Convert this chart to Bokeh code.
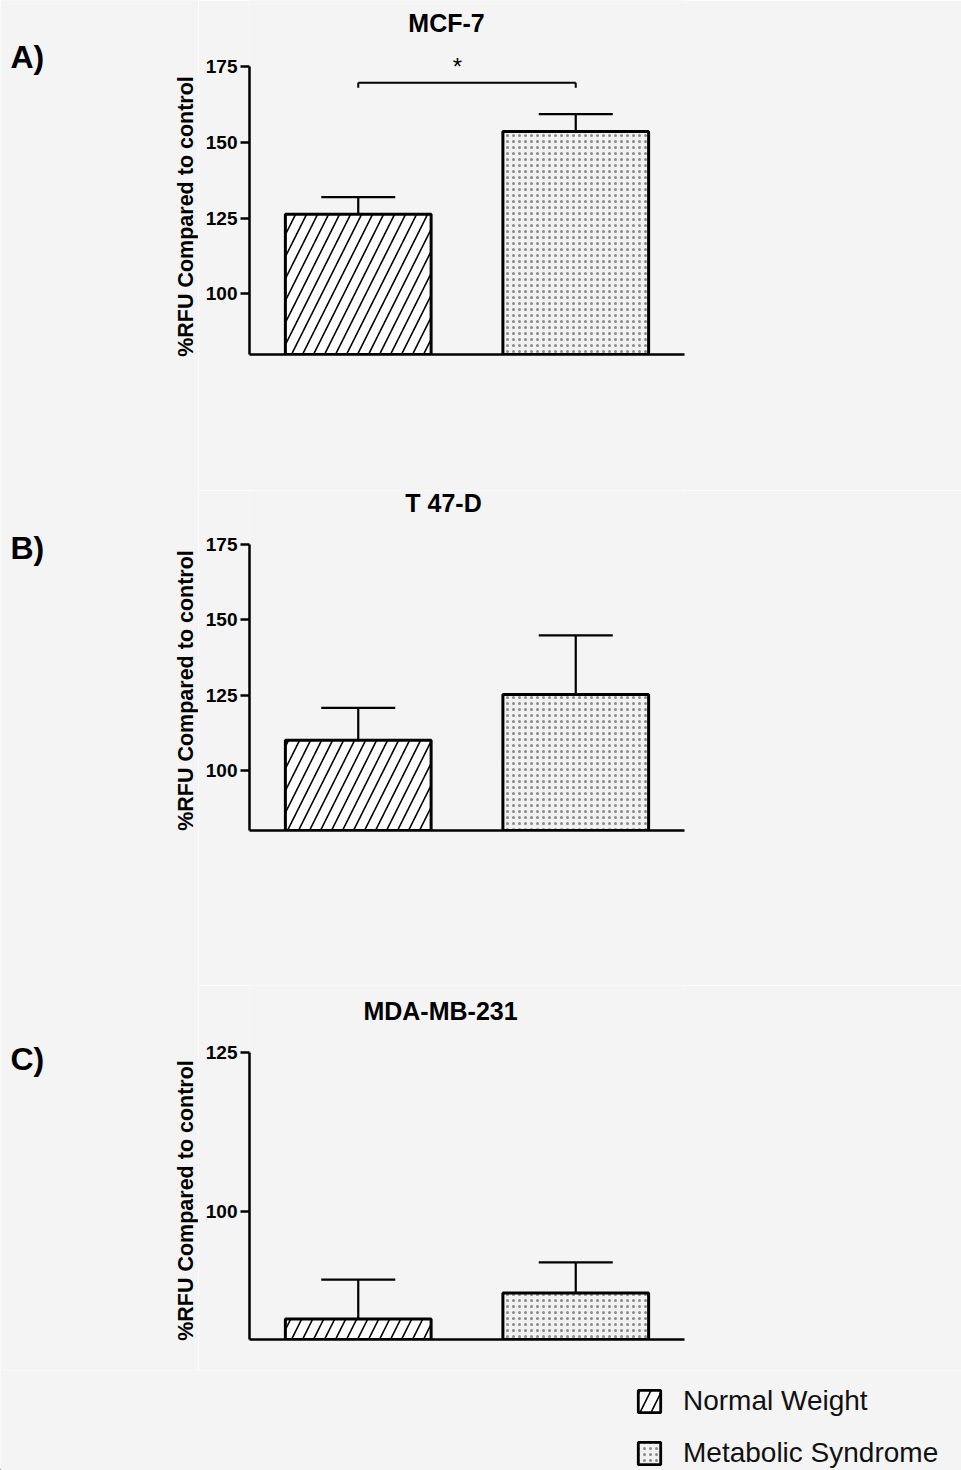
import math
from bokeh.plotting import figure
from bokeh.layouts import column, row
from bokeh.models import (Range1d, Label, Whisker, TeeHead, ColumnDataSource,
                          Legend, LegendItem, FixedTicker)
from bokeh.core.properties import value
from bokeh.embed import file_html
from bokeh.resources import INLINE

# ---------------- data ----------------
groups = ["Normal Weight", "Metabolic Syndrome"]
titles = ["MCF-7", "T 47-D", "MDA-MB-231"]
panel_tags = ["A)", "B)", "C)"]
y_axis_label = "%RFU Compared to control"

mcf7_mean = [126.3, 153.6]
mcf7_err = [5.6, 5.7]
t47d_mean = [110.0, 125.2]
t47d_err = [10.7, 19.6]
mda_mean = [83.2, 87.3]
mda_err = [6.2, 4.8]

ticks_ab = [100, 125, 150, 175]
ticks_c = [100, 125]
y_floor = 80

sig_text = "*"
sig_level = 169.6      # bracket height for the MCF-7 comparison
sig_drop = 1.6

# ---------------- style / geometry ----------------
BG = "#f4f4f4"
FONT = "Liberation Sans"
xpos = [1, 2]
BAR_W = 0.67
STRIP_W = 198               # left strip: panel letters + y-axis titles
FRAME_L, FRAME_R = 249, 684  # page x of plot frame
X0, X1 = 0.5, 2.5
XS = (FRAME_R - FRAME_L) / (X1 - X0)
NW_STYLE = dict(fill_color="white", line_color="black",
                hatch_pattern="/", hatch_color="black", hatch_scale=22,
                hatch_weight=1.6)
MS_STYLE = dict(fill_color="#f1f1f1", line_color="black",
                hatch_pattern=".", hatch_color="#8a8a8a", hatch_scale=6,
                hatch_weight=1)


def make_panel(title, means, errs, ticks, fig_top, top_tick_px, bottom_px,
               height, title_px, sig=False):
    top_tick = ticks[-1]
    scale = (bottom_px - top_tick_px) / (top_tick - y_floor)   # px per unit
    y_max = top_tick + (top_tick_px - fig_top) / scale

    def dy(page_y):
        return y_floor + (bottom_px - page_y) / scale

    def dx(page_x):
        return X0 + (page_x - FRAME_L) / XS

    p = figure(width=961 - STRIP_W, height=height,
               x_range=Range1d(X0, X1), y_range=Range1d(y_floor, y_max),
               output_backend="svg", toolbar_location=None,
               min_border_left=FRAME_L - STRIP_W, min_border_right=961 - FRAME_R,
               min_border_top=0, min_border_bottom=fig_top + height - bottom_px,
               background_fill_color=BG, border_fill_color=BG,
               outline_line_color=None)
    p.grid.visible = False

    ya = p.yaxis[0]
    ya.ticker = FixedTicker(ticks=ticks)
    ya.bounds = (y_floor, top_tick)
    ya.minor_tick_line_color = None
    ya.major_tick_in = 0
    ya.major_tick_out = 9
    ya.major_tick_line_width = 2.5
    ya.axis_line_width = 2.5
    ya.major_label_text_font = FONT
    ya.major_label_text_font_size = "19px"
    ya.major_label_text_font_style = "bold"
    ya.major_label_text_color = "black"
    ya.major_label_standoff = 3

    xa = p.xaxis[0]
    xa.ticker = FixedTicker(ticks=[])
    xa.major_tick_line_color = None
    xa.minor_tick_line_color = None
    xa.major_label_text_color = None
    xa.axis_line_width = 2.5

    p.vbar(x=[xpos[0]], top=[means[0]], bottom=y_floor, width=BAR_W,
           line_width=3, **NW_STYLE)
    p.vbar(x=[xpos[1]], top=[means[1]], bottom=y_floor, width=BAR_W,
           line_width=3, **MS_STYLE)

    src = ColumnDataSource(dict(x=xpos, lower=means,
                                upper=[m + e for m, e in zip(means, errs)]))
    p.add_layout(Whisker(base="x", lower="lower", upper="upper", source=src,
                         dimension="height", line_width=2.2, line_color="black",
                         upper_head=TeeHead(size=74, line_width=2.2,
                                            line_color="black"),
                         lower_head=None))

    p.add_layout(Label(x=dx(title_px[0]), y=dy(title_px[1]), text=title,
                       text_font=FONT, text_font_size="25px",
                       text_font_style="bold", text_align="center",
                       text_baseline="middle", text_color="black"))

    if sig:
        p.segment(x0=[xpos[0], xpos[0], xpos[1]],
                  y0=[sig_level, sig_level, sig_level],
                  x1=[xpos[1], xpos[0], xpos[1]],
                  y1=[sig_level, sig_level - sig_drop, sig_level - sig_drop],
                  line_color="black", line_width=2)
        p.add_layout(Label(x=dx(457), y=dy(66), text=sig_text, text_font=FONT,
                           text_font_size="24px", text_align="center",
                           text_baseline="middle", text_color="black"))
    return p


pa = make_panel(titles[0], mcf7_mean, mcf7_err, ticks_ab,
                0, 66, 354, 490, (446, 22), sig=True)
pb = make_panel(titles[1], t47d_mean, t47d_err, ticks_ab,
                490, 544, 830, 495, (443, 502))
pc = make_panel(titles[2], mda_mean, mda_err, ticks_c,
                985, 1052, 1339, 385, (440, 1010))

# left strip with panel letters and y-axis titles (page coordinates)
strip = figure(width=STRIP_W, height=1370, x_range=Range1d(0, STRIP_W),
               y_range=Range1d(1370, 0), output_backend="svg",
               toolbar_location=None, min_border=0,
               background_fill_color=BG, border_fill_color=BG,
               outline_line_color=None)
strip.axis.visible = False
strip.grid.visible = False
strip.text(x=[10, 10, 10], y=[56, 547, 1058], text=panel_tags,
           text_font=value(FONT), text_font_size="32px",
           text_font_style="bold", text_baseline="middle",
           text_align="left", text_color="black")
strip.text(x=[185, 185, 185], y=[216, 690, 1200], text=[y_axis_label] * 3,
           angle=math.pi / 2, text_font=value(FONT), text_font_size="21.5px",
           text_font_style="bold", text_baseline="middle",
           text_align="center", text_color="black")

# legend strip
leg_fig = figure(width=961, height=100, x_range=Range1d(0, 961),
                 y_range=Range1d(0, 100), output_backend="svg",
                 toolbar_location=None, min_border=0,
                 background_fill_color=BG, border_fill_color=BG,
                 outline_line_color=None)
leg_fig.axis.visible = False
leg_fig.grid.visible = False
# legend proxies: zero-height bars placed outside the visible range
r_nw = leg_fig.vbar(x=[-100], top=[0], bottom=[0], width=1, line_width=2.8,
                    **NW_STYLE)
r_ms = leg_fig.vbar(x=[-100], top=[0], bottom=[0], width=1, line_width=2.8,
                    **MS_STYLE)
lg = Legend(items=[LegendItem(label=groups[0], renderers=[r_nw]),
                   LegendItem(label=groups[1], renderers=[r_ms])],
            location=(635, 1), orientation="vertical",
            glyph_width=28, glyph_height=28, label_height=28,
            label_text_font=FONT, label_text_font_size="28px",
            label_text_color="#111111", label_standoff=20,
            spacing=20, padding=0, margin=0,
            border_line_color=None, background_fill_alpha=0)
leg_fig.add_layout(lg)

layout = column(row(strip, column(pa, pb, pc, spacing=0), spacing=0),
                leg_fig, spacing=0)
open("out.html", "w").write(file_html(layout, INLINE))
